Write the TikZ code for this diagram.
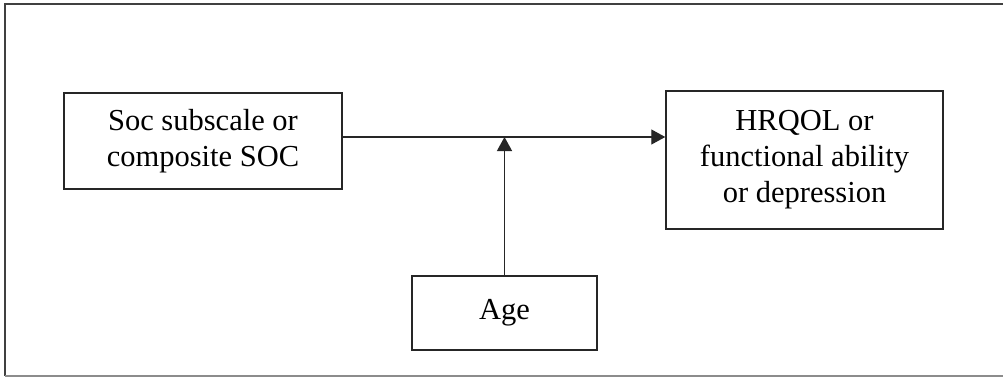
\documentclass[tikz,border=0pt]{standalone}
\usepackage{fontspec}
\setmainfont{Liberation Serif}
\usetikzlibrary{arrows.meta}
\begin{document}
\begin{tikzpicture}[x=1pt,y=-1pt,
  varbox/.style={draw=black!85, line width=1.5pt, align=center, inner sep=0pt,
    font=\fontsize{30.5}{36}\selectfont},
  link/.style={draw=black!85, line width=1.3pt,
    -{Triangle[length=14pt,width=15pt]}},
  frameline/.style={draw=black!75, line width=1.6pt}]
  % page area
  \fill[white] (0,0) rectangle (1003,377);
  \useasboundingbox (0,0) rectangle (1003,377);
  % surrounding frame (open at the right)
  \coordinate (ftr) at (1003,4);
  \coordinate (ftl) at (5,4);
  \coordinate (fbl) at (5,376);
  \coordinate (fbr) at (1003,376);
  \draw[frameline] (ftr) -- (ftl) -- (fbl);
  \draw[draw=black!45, line width=1.2pt] (fbl) -- (fbr);
  % variables
  \node[varbox, minimum width=278pt, minimum height=96pt] (soc) at (203,141)
    {Soc subscale or\\composite SOC};
  \node[varbox, minimum width=277pt, minimum height=138pt] (out) at (804.5,160)
    {HRQOL or\\functional ability\\or depression};
  \node[varbox, minimum width=185pt, minimum height=74pt] (age) at (504.5,313)
    {Age};
  % main path and moderating path
  \coordinate (mid) at (age.north |- 0,137);
  \draw[link] (soc.east |- 0,137) -- (out.west |- 0,137);
  \draw[link] (age.north) -- (mid);
\end{tikzpicture}
\end{document}
